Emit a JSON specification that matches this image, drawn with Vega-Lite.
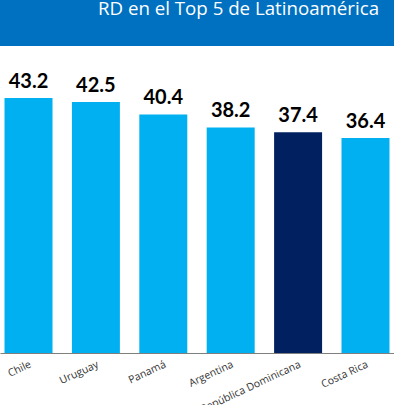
{
  "$schema": "https://vega.github.io/schema/vega-lite/v6.json",
  "padding": 0,
  "background": "white",
  "spacing": 0,
  "config": {"view": {"stroke": null}},
  "vconcat": [
    {
      "width": 394,
      "height": 46,
      "view": {"fill": "#0070C0", "stroke": null},
      "data": {"values": [{"t": "RD en el Top 5 de Latinoamérica"}]},
      "mark": {
        "type": "text",
        "align": "left",
        "baseline": "alphabetic",
        "dx": -99,
        "dy": -8,
        "color": "white",
        "font": "Open Sans",
        "fontSize": 18.7
      },
      "encoding": {"text": {"field": "t"}}
    },
    {
      "width": 394,
      "height": 307,
      "data": {
        "values": [
          {"pais": "Chile", "valor": 43.2, "rd": "no"},
          {"pais": "Uruguay", "valor": 42.5, "rd": "no"},
          {"pais": "Panamá", "valor": 40.4, "rd": "no"},
          {"pais": "Argentina", "valor": 38.2, "rd": "no"},
          {"pais": "República Dominicana", "valor": 37.4, "rd": "si"},
          {"pais": "Costa Rica", "valor": 36.4, "rd": "no"}
        ]
      },
      "encoding": {
        "x": {
          "field": "pais",
          "type": "nominal",
          "sort": null,
          "scale": {"paddingInner": 0.288, "paddingOuter": 0.067},
          "axis": {
            "title": null,
            "labelAngle": -25,
            "labelFont": "Open Sans",
            "labelFontSize": 10.5,
            "labelColor": "#333333",
            "labelPadding": 6,
            "ticks": false,
            "domainColor": "#7f7f7f",
            "domainWidth": 1.2,
            "labelOverlap": false
          }
        },
        "y": {
          "field": "valor",
          "type": "quantitative",
          "scale": {"domain": [0, 52], "nice": false},
          "axis": null
        }
      },
      "layer": [
        {
          "mark": {"type": "bar"},
          "encoding": {
            "color": {
              "field": "rd",
              "type": "nominal",
              "scale": {"domain": ["no", "si"], "range": ["#00B0F0", "#002060"]},
              "legend": null
            }
          }
        },
        {
          "mark": {
            "type": "text",
            "baseline": "alphabetic",
            "dy": -10,
            "font": "Lato",
            "fontSize": 20,
            "fontWeight": "bold",
            "color": "#000000"
          },
          "encoding": {"text": {"field": "valor", "type": "quantitative", "format": ".1f"}}
        }
      ]
    }
  ]
}
